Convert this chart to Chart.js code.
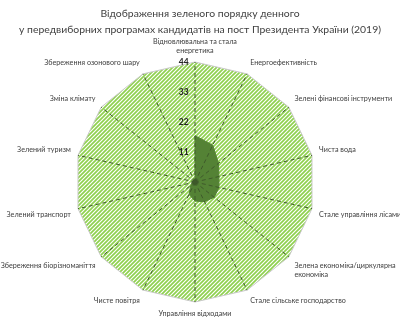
<!DOCTYPE html>
<html>
<head>
<meta charset="utf-8">
<script src="https://cdn.jsdelivr.net/npm/chart.js@4/dist/chart.umd.min.js"></script>
<style>
html,body{margin:0;padding:0;background:#fff;}
#wrap{width:400px;height:319px;}
</style>
</head>
<body>
<div id="wrap"><canvas id="c" width="400" height="319"></canvas></div>
<script>
const categories = [
  ["Відновлювальна та стала", "енергетика"],
  "Енергоефективність",
  "Зелені фінансові інструменти",
  "Чиста вода",
  "Стале управління лісами",
  ["Зелена економіка/циркулярна", "економіка"],
  "Стале сільське господарство",
  "Управління відходами",
  "Чисте повітря",
  "Збереження біорізноманіття",
  "Зелений транспорт",
  "Зелений туризм",
  "Зміна клімату",
  "Збереження озонового шару"
];
const greenAgenda = [17, 15, 11, 9, 9, 9, 8, 7, 5, 2, 1, 0, 0, 0];
const maxScale = [44, 44, 44, 44, 44, 44, 44, 44, 44, 44, 44, 44, 44, 44];
const tickValues = [0, 11, 22, 33, 44];

function hatch() {
  const s = 4;
  const p = document.createElement('canvas');
  p.width = s; p.height = s;
  const g = p.getContext('2d');
  g.fillStyle = '#ffffff';
  g.fillRect(0, 0, s, s);
  g.strokeStyle = '#8fd14f';
  g.lineWidth = 1.7;
  g.beginPath();
  g.moveTo(-1, s + 1); g.lineTo(s + 1, -1);
  g.moveTo(-1, 1); g.lineTo(1, -1);
  g.moveTo(s - 1, s + 1); g.lineTo(s + 1, s - 1);
  g.stroke();
  return g.createPattern(p, 'repeat');
}

// place the radial scale: centre and radius (layout only)
function placeScale(scale) {
  const newR = 120, newX = 195, newY = 182;
  const oldR = scale.drawingArea, oldX = scale.xCenter, oldY = scale.yCenter;
  scale.drawingArea = newR;
  scale.xCenter = newX;
  scale.yCenter = newY;
  (scale._pointLabelItems || []).forEach((it, i) => {
    const a = scale.getIndexAngle(i) - Math.PI / 2;
    const dx = (newX - oldX) + (newR - oldR) * Math.cos(a);
    const dy = (newY - oldY) + (newR - oldR) * Math.sin(a);
    it.x += dx; it.left += dx; it.right += dx;
    it.y += dy; it.top += dy; it.bottom += dy;
  });
}

new Chart(document.getElementById('c'), {
  type: 'radar',
  data: {
    labels: categories,
    datasets: [
      {
        data: greenAgenda,
        backgroundColor: '#548235',
        borderColor: '#548235',
        borderWidth: 1,
        pointRadius: (ctx) => (ctx.raw === 0 ? 2.5 : 0),
        pointBackgroundColor: '#375623',
        pointBorderWidth: 0,
        fill: true,
        order: 0
      },
      {
        data: maxScale,
        backgroundColor: hatch(),
        borderColor: '#c9c9c9',
        borderWidth: 1,
        pointRadius: 0,
        fill: true,
        order: 1
      }
    ]
  },
  options: {
    responsive: false,
    animation: false,
    layout: { padding: 0 },
    plugins: {
      legend: { display: false },
      tooltip: { enabled: false },
      title: {
        display: true,
        text: ["Відображення зеленого порядку денного", "у передвиборних програмах кандидатів на пост Президента України (2019)"],
        color: '#404040',
        font: { family: 'Lato', size: 10.4, weight: 'normal', lineHeight: 1.6 },
        padding: { top: 5, bottom: 0 }
      }
    },
    scales: {
      r: {
        min: 0,
        max: 44,
        afterBuildTicks: (scale) => { scale.ticks = tickValues.map(v => ({ value: v })); },
        afterFit: placeScale,
        ticks: {
          z: 1,
          color: '#262626',
          font: { family: 'Lato', size: 8.5, weight: 'bold' },
          showLabelBackdrop: false,
          callback: (v) => v + '           '
        },
        grid: { color: 'rgba(0,0,0,0)', z: 1 },
        angleLines: { color: '#3f5a2b', lineWidth: 1, borderDash: [4, 3] },
        pointLabels: {
          color: '#404040',
          font: { family: 'Lato', size: 7.2 },
          padding: 1
        }
      }
    }
  }
});
</script>
</body>
</html>
